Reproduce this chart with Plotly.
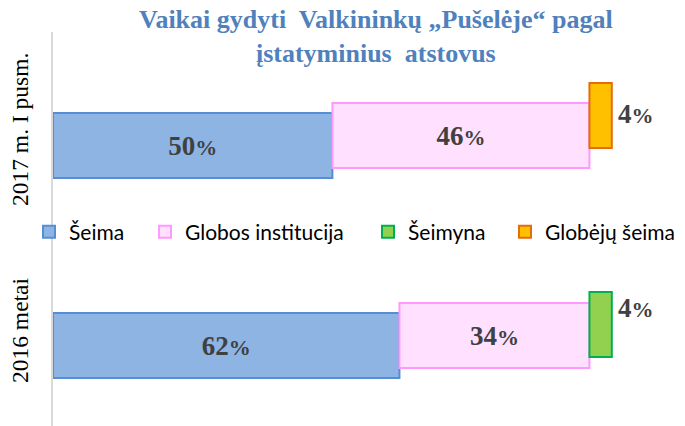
import plotly.graph_objects as go

# ---- data ----
categories = ["2016 metai", "2017 m. I pusm."]
series_names = ["Šeima", "Globos institucija", "Šeimyna", "Globėjų šeima"]
seima = [62, 50]
globos = [34, 46]
seimyna = [4, 0]
globeju = [0, 4]
title_text = "Vaikai gydyti  Valkininkų „Pušelėje“ pagal<br>įstatyminius  atstovus"

# ---- styles ----
fills = ["#8EB4E3", "#FFE1FF", "#92D050", "#FFC000"]
lines = ["#558ED5", "#FF99FF", "#00B050", "#E46C0A"]
offsets = [-0.24, -0.19, -0.135, -0.09]
bar_w = 0.325
label_color = "#404040"
serif = "Liberation Serif, Times New Roman, serif"
sans = "Lato, Calibri, Carlito, sans-serif"

W, H = 685, 426
L, R, T, B = 53, 0, 32, 0
pw = W - L - R
ph = H - T - B


def px_x(p):  # pixel x -> paper x
    return (p - L) / pw


def px_y(p):  # pixel y -> paper y
    return (H - p) / ph


def pct_label(v):
    return f"<b>{v}<span style='font-size:22px'>%</span></b>"


values = [seima, globos, seimyna, globeju]
bases = []
acc = [0, 0]
for vals in values:
    bases.append(list(acc))
    acc = [a + v for a, v in zip(acc, vals)]

fig = go.Figure()
legend_ids = ["legend", "legend2", "legend3", "legend4"]
for i, (name, vals) in enumerate(zip(series_names, values)):
    xs = [v if v else None for v in vals]
    inside = i < 2
    fig.add_trace(go.Bar(
        orientation="h",
        y=categories,
        x=xs,
        base=bases[i],
        name=name,
        width=bar_w,
        offset=offsets[i],
        marker=dict(color=fills[i], line=dict(color=lines[i], width=2)),
        text=[pct_label(v) for v in vals] if inside else None,
        textposition="inside" if inside else "none",
        insidetextanchor="middle",
        textfont=dict(family=serif, size=27, color=label_color),
        constraintext="none",
        legend=legend_ids[i],
        hoverinfo="skip",
    ))

# outside labels for small segments
small_shift = {2: 17, 3: 2}
for i in (2, 3):
    for j, v in enumerate(values[i]):
        if v:
            pos = j + offsets[i] + bar_w / 2
            fig.add_annotation(
                x=bases[i][j] + v, y=pos, xref="x", yref="y",
                text=pct_label(v), showarrow=False, xanchor="left", yanchor="middle",
                xshift=4, yshift=small_shift[i],
                font=dict(family=serif, size=27, color=label_color),
            )

# category labels (rotated)
for j, c in enumerate(categories):
    fig.add_annotation(
        x=px_x(20), y=j, xref="paper", yref="y",
        text=c, textangle=-90, showarrow=False,
        xanchor="center", yanchor="middle",
        font=dict(family=serif, size=23.5, color="#000000"),
    )

# title
fig.add_annotation(
    x=px_x(376), y=px_y(3), xref="paper", yref="paper",
    text=title_text, showarrow=False, xanchor="center", yanchor="top",
    font=dict(family=serif, size=26, color="#4F81BD", weight="bold"),
)

legend_px = [29, 145, 368, 505]
common_leg = dict(
    orientation="h", yanchor="middle", xanchor="left",
    bgcolor="rgba(0,0,0,0)", font=dict(family=sans, size=21, color="#000000"),
    borderwidth=0,
)
layout_legends = {}
for lid, px in zip(legend_ids, legend_px):
    layout_legends[lid] = dict(common_leg, x=px_x(px), y=px_y(232))

fig.update_layout(
    width=W, height=H,
    margin=dict(l=L, r=R, t=T, b=B, pad=0, autoexpand=False),
    paper_bgcolor="white", plot_bgcolor="white",
    barmode="overlay",
    showlegend=True,
    xaxis=dict(range=[0, 113.1], visible=False, fixedrange=True),
    yaxis=dict(
        type="category", categoryorder="array", categoryarray=categories,
        range=[-0.48, 1.49], showline=True, linecolor="#D9D9D9", linewidth=2,
        showticklabels=False, ticks="", showgrid=False, zeroline=False,
    ),
    **layout_legends,
)

fig.write_html(
    "out.html",
    config={"displayModeBar": False, "staticPlot": True},
    post_script="document.body.style.margin='0px';document.body.style.overflow='hidden';",
)
